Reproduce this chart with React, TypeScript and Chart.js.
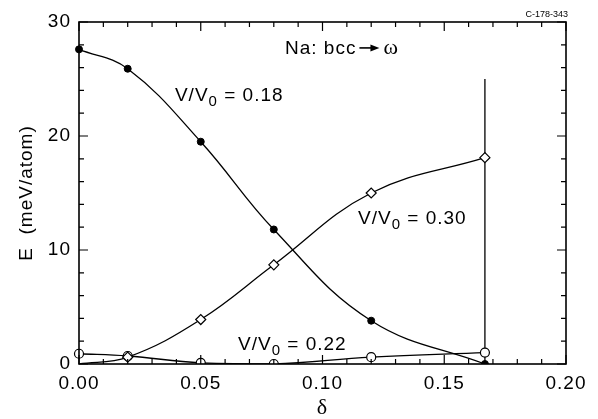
import React, { useEffect, useRef } from 'react';
import { Chart, registerables } from 'chart.js';
Chart.register(...registerables);

const delta = [0, 0.02, 0.05, 0.08, 0.12, 0.1667];
const e018 = [27.6, 25.9, 19.5, 11.8, 3.8, 0.0];
const e030 = [0.0, 0.6, 3.9, 8.7, 15.0, 18.1];
const e022 = [0.9, 0.7, 0.1, 0.0, 0.6, 1.0];
const markerX = [0.1667, 0.1667];
const markerY = [0, 25];
const xTicks = [0, 0.05, 0.1, 0.15, 0.2];
const yTicks = [0, 10, 20, 30];
const xMinor = 0.01;
const yMinor = 2;

const SANS = '"Liberation Sans", Arial, sans-serif';
const SERIF = '"Liberation Serif", "Times New Roman", serif';

function pts(ys: number[]) {
  return delta.map((x, i) => ({ x, y: ys[i] }));
}

function drawVV(ctx: CanvasRenderingContext2D, x: number, y: number, value: string) {
  ctx.textAlign = 'left';
  ctx.textBaseline = 'alphabetic';
  ctx.font = `19px ${SANS}`;
  ctx.fillText('V/V', x, y);
  let w = ctx.measureText('V/V').width;
  ctx.font = `15px ${SANS}`;
  ctx.fillText('0', x + w, y + 5);
  w += ctx.measureText('0').width;
  ctx.font = `19px ${SANS}`;
  ctx.fillText(' = ' + value, x + w, y);
}

const decor = {
  id: 'decor',
  beforeDraw(chart: any) {
    (chart.ctx as any).letterSpacing = '1px';
  },
  afterDraw(chart: any) {
    const { ctx, chartArea: a, scales } = chart;
    const x = scales.x;
    const y = scales.y;
    ctx.save();
    ctx.strokeStyle = '#000';
    ctx.fillStyle = '#000';
    ctx.lineWidth = 1.2;
    ctx.beginPath();
    const nx = Math.round((x.max - x.min) / xMinor);
    for (let i = 0; i <= nx; i++) {
      const px = x.getPixelForValue(x.min + i * xMinor);
      const len = i % 5 === 0 ? 9 : 5;
      ctx.moveTo(px, a.bottom);
      ctx.lineTo(px, a.bottom - len);
      ctx.moveTo(px, a.top);
      ctx.lineTo(px, a.top + len);
    }
    const ny = Math.round((y.max - y.min) / yMinor);
    for (let i = 0; i <= ny; i++) {
      const v = y.min + i * yMinor;
      const py = y.getPixelForValue(v);
      const len = v % 10 === 0 ? 9 : 5;
      ctx.moveTo(a.left, py);
      ctx.lineTo(a.left + len, py);
      ctx.moveTo(a.right, py);
      ctx.lineTo(a.right - len, py);
    }
    ctx.stroke();
    ctx.lineWidth = 1.6;
    ctx.strokeRect(a.left, a.top, a.right - a.left, a.bottom - a.top);

    (ctx as any).letterSpacing = '1px';
    const tx = x.getPixelForValue(0.0846);
    const ty = y.getPixelForValue(27.2);
    ctx.font = `19px ${SANS}`;
    ctx.textAlign = 'left';
    ctx.textBaseline = 'alphabetic';
    ctx.fillText('Na: bcc', tx, ty);
    const tw = ctx.measureText('Na: bcc').width;
    const ax0 = tx + tw + 3;
    const ax1 = ax0 + 20;
    const ay = ty - 6;
    ctx.lineWidth = 1.6;
    ctx.beginPath();
    ctx.moveTo(ax0, ay);
    ctx.lineTo(ax1 - 6, ay);
    ctx.stroke();
    ctx.beginPath();
    ctx.moveTo(ax1, ay);
    ctx.lineTo(ax1 - 9, ay - 3.5);
    ctx.lineTo(ax1 - 9, ay + 3.5);
    ctx.closePath();
    ctx.fill();
    ctx.font = `22px ${SERIF}`;
    ctx.fillText('ω', ax1 + 4, ty);

    drawVV(ctx, x.getPixelForValue(0.0394), y.getPixelForValue(23.1), '0.18');
    drawVV(ctx, x.getPixelForValue(0.1146), y.getPixelForValue(12.3), '0.30');
    drawVV(ctx, x.getPixelForValue(0.0653), y.getPixelForValue(1.23), '0.22');

    (ctx as any).letterSpacing = '0px';
    ctx.font = `9px ${SANS}`;
    ctx.textAlign = 'right';
    ctx.fillText('C-178-343', a.right + 2, a.top - 5);
    ctx.restore();
  },
};

export default function App() {
  const ref = useRef<HTMLCanvasElement>(null);
  useEffect(() => {
    document.body.style.margin = '0';
    const clipBottom = { left: false, top: false, right: false, bottom: 0 } as any;
    const chart = new Chart(ref.current as HTMLCanvasElement, {
      type: 'line',
      data: {
        datasets: [
          {
            data: pts(e018),
            borderColor: '#000',
            borderWidth: 1.3,
            backgroundColor: '#000',
            pointBackgroundColor: '#000',
            pointBorderColor: '#000',
            pointBorderWidth: 1,
            pointRadius: 3.5,
            pointStyle: 'circle',
            tension: 0.4,
            clip: clipBottom,
            order: 1,
          },
          {
            data: pts(e030),
            borderColor: '#000',
            borderWidth: 1.3,
            pointBackgroundColor: '#fff',
            pointBorderColor: '#000',
            pointBorderWidth: 1.2,
            pointRadius: [0, 5, 5, 5, 5, 5],
            pointStyle: 'rectRot',
            tension: 0.4,
            clip: clipBottom,
            order: 2,
          },
          {
            data: pts(e022),
            borderColor: '#000',
            borderWidth: 1.3,
            pointBackgroundColor: '#fff',
            pointBorderColor: '#000',
            pointBorderWidth: 1.2,
            pointRadius: 4.5,
            pointStyle: 'circle',
            tension: 0.4,
            clip: clipBottom,
            order: 3,
          },
          {
            data: markerX.map((v, i) => ({ x: v, y: markerY[i] })),
            borderColor: '#000',
            borderWidth: 1.3,
            pointRadius: 0,
            order: 4,
          },
        ],
      },
      options: {
        animation: false,
        responsive: false,
        devicePixelRatio: 1,
        layout: { padding: { top: 22, right: 32, left: 0, bottom: 0 } },
        plugins: { legend: { display: false }, tooltip: { enabled: false } },
        scales: {
          x: {
            type: 'linear',
            min: 0,
            max: 0.2,
            afterBuildTicks: (s: any) => {
              s.ticks = xTicks.map((v) => ({ value: v }));
            },
            afterFit: (s: any) => {
              s.height = 55;
            },
            ticks: {
              callback: (v: any) => Number(v).toFixed(2),
              font: { family: SANS, size: 19 },
              color: '#000',
              padding: 8,
              maxRotation: 0,
              autoSkip: false,
            },
            grid: { display: false, drawTicks: false },
            border: { display: false },
            title: {
              display: true,
              text: 'δ',
              font: { family: SERIF, size: 22 },
              color: '#000',
              padding: { top: 0, bottom: -2 },
            },
          },
          y: {
            type: 'linear',
            min: 0,
            max: 30,
            afterBuildTicks: (s: any) => {
              s.ticks = yTicks.map((v) => ({ value: v }));
            },
            afterFit: (s: any) => {
              s.width = 79;
            },
            ticks: {
              font: { family: SANS, size: 19 },
              color: '#000',
              padding: 8,
              autoSkip: false,
            },
            grid: { display: false, drawTicks: false },
            border: { display: false },
            title: {
              display: true,
              text: 'E  (meV/atom)',
              font: { family: SANS, size: 19 },
              color: '#000',
              padding: { top: 15, bottom: 0 },
            },
          },
        },
      },
      plugins: [decor],
    } as any);
    return () => chart.destroy();
  }, []);
  return (
    <div style={{ position: 'fixed', left: 0, top: 0, width: 598, height: 419, background: '#fff' }}>
      <canvas ref={ref} width={598} height={419} />
    </div>
  );
}
